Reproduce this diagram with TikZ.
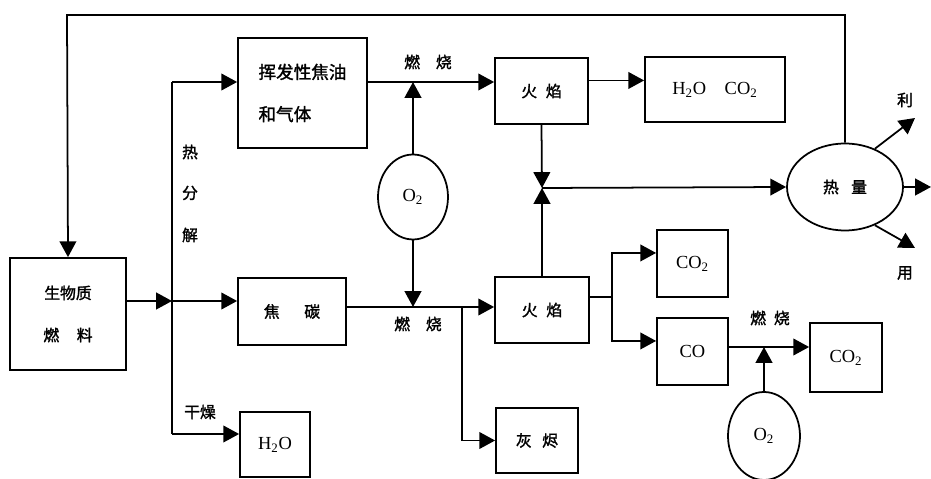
\documentclass[tikz,border=0pt]{standalone}
\usepackage{fontspec}
\newfontfamily\cjk{Noto Sans CJK SC}[FakeBold=1.6]
\newfontfamily\chemfont{Liberation Serif}
\usetikzlibrary{arrows.meta, shapes.geometric}
\tikzset{
  box/.style={
    draw, line width=1pt, inner sep=0pt, align=center,
    font=\cjk\fontsize{9}{24}\selectfont
  },
  oval/.style={
    draw, ellipse, line width=1pt, inner sep=0pt,
    font=\chemfont\fontsize{10.5}{12}\selectfont
  },
  chem/.style={font=\chemfont\fontsize{10.5}{12}\selectfont},
  arr/.style={-{Triangle[length=9pt,width=9.5pt]}, line width=1pt},
  lin/.style={line width=1pt},
  lab/.style={font=\cjk\fontsize{9}{11}\selectfont, inner sep=0pt}
}
\begin{document}
\begin{tikzpicture}[x=0.02cm, y=-0.02cm]
  \useasboundingbox (0,0) rectangle (931,479);
  \node[box,minimum width=2.32cm,minimum height=2.24cm] (bio) at (68,314)
    {生物质\\燃\hspace{10pt}料};
  \node[box,minimum width=2.58cm,minimum height=2.2cm,align=left,
    font=\cjk\fontsize{10}{24}\selectfont] (vol) at (302.5,93)
    {挥发性焦油\\和气体};
  \node[box,minimum width=2.16cm,minimum height=1.34cm] (coke) at (292,311.5)
    {焦\hspace{14pt}碳};
  \node[box,chem,minimum width=1.4cm,minimum height=1.3cm] (h2o) at (275,444.5)
    {H\textsubscript{2}O};
  \node[box,minimum width=1.86cm,minimum height=1.32cm] (flame1) at (541.5,91)
    {火\hspace{5pt}焰};
  \node[box,chem,minimum width=2.8cm,minimum height=1.3cm] (prod) at (715,89.5)
    {H\textsubscript{2}O\quad CO\textsubscript{2}};
  \node[box,minimum width=1.88cm,minimum height=1.32cm] (flame2) at (542,310)
    {火\hspace{5pt}焰};
  \node[box,minimum width=1.64cm,minimum height=1.3cm] (ash) at (537,440.5)
    {灰\hspace{6pt}烬};
  \node[box,chem,minimum width=1.42cm,minimum height=1.34cm] (co2a) at (692.5,263.5)
    {CO\textsubscript{2}};
  \node[box,chem,minimum width=1.42cm,minimum height=1.34cm] (co) at (692.5,351.5)
    {CO};
  \node[box,chem,minimum width=1.44cm,minimum height=1.38cm] (co2b) at (846,357.5)
    {CO\textsubscript{2}};
  \node[oval,minimum width=1.4cm,minimum height=1.7cm] (o2a) at (413,197)
    {O\textsubscript{2}};
  \node[oval,minimum width=1.44cm,minimum height=1.76cm] (o2b) at (764,436)
    {O\textsubscript{2}};
  \node[oval,font=\cjk\fontsize{9}{11}\selectfont,
    minimum width=2.32cm,minimum height=1.74cm] (heat) at (845,187)
    {热\hspace{7pt}量};

  \coordinate (fbtop) at (67,15);
  \coordinate (split) at (172,301);
  \coordinate (ptop) at (172,82);
  \coordinate (pbot) at (172,434);
  \coordinate (cl) at (462,307);
  \coordinate (jn) at (542,188);
  \coordinate (fk) at (612,297);
  \coordinate (cb) at (764,347);
  \coordinate (use1) at (915,118);
  \coordinate (use2) at (931,187);
  \coordinate (use3) at (915,248);

  \draw[arr] (heat.north) |- (fbtop) -- (bio.north);
  \draw[arr] (bio.east |- split) -- (split);
  \draw[lin] (ptop) -- (pbot);
  \draw[arr] (ptop) -- (vol.west |- ptop);
  \draw[arr] (split) -- (coke.west |- split);
  \draw[arr] (pbot) -- (h2o.west |- pbot);
  \draw[arr] (vol.east |- ptop) -- (flame1.west |- ptop);
  \draw[arr] (o2a.north) -- (o2a.north |- ptop);
  \draw[arr] (o2a.south) -- (o2a.south |- cl);
  \draw[arr] (coke.east |- cl) -- (flame2.west |- cl);
  \draw[arr] (cl) |- (ash.west);
  \draw[arr] ([yshift=6pt]flame1.east) -- ([yshift=6pt]flame1.east -| prod.west);
  \draw[arr] (flame1.south) -- (jn);
  \draw[arr] (flame2.north) -- (jn);
  \draw[arr] (jn) -- (heat.west);
  \draw[arr] (heat.52) -- (use1);
  \draw[arr] (heat.east) -- (use2);
  \draw[arr] (heat.-52) -- (use3);
  \draw[lin] (flame2.east |- fk) -- (fk);
  \draw[arr] (fk) |- ([yshift=6pt]co2a.west);
  \draw[arr] (fk) |- ([yshift=6pt]co.west);
  \draw[arr] (co.east |- cb) -- (co2b.west |- cb);
  \draw[arr] (o2b.north) -- (cb);

  \node[lab] (burn1) at (428,62) {燃\quad 烧};
  \node[lab] (burn2) at (418,324) {燃\quad 烧};
  \node[lab] (burn3) at (770,318) {燃\enspace 烧};
  \node[lab] (re) at (190,152) {热};
  \node[lab] (fen) at (190,193) {分};
  \node[lab] (jie) at (190,235) {解};
  \node[lab] (dry) at (200,412) {干燥};
  \node[lab] (li) at (905,100) {利};
  \node[lab] (yong) at (905,273) {用};
\end{tikzpicture}
\end{document}
